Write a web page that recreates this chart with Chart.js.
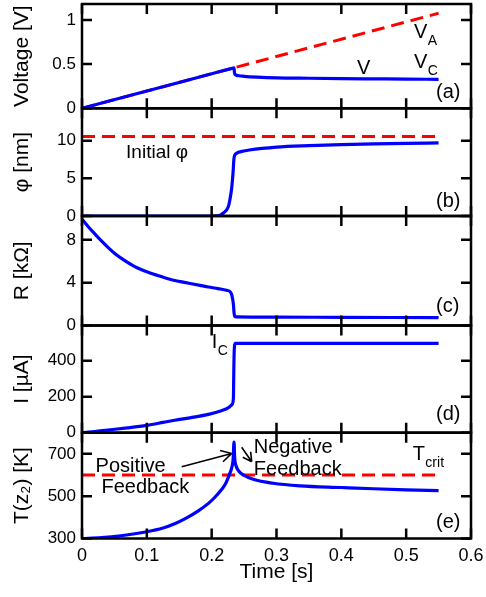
<!DOCTYPE html>
<html>
<head>
<meta charset="utf-8">
<script src="https://cdn.jsdelivr.net/npm/chart.js@4.4.1/dist/chart.umd.min.js"></script>
<style>
  body { margin: 0; background: #fff; }
  #wrap { position: relative; width: 486px; height: 597px; }
  #wrap canvas { position: absolute; left: 0; top: 0; }
</style>
</head>
<body>
<div id="wrap">
  <canvas id="pA" width="486" height="597"></canvas>
  <canvas id="pB" width="486" height="597"></canvas>
  <canvas id="pC" width="486" height="597"></canvas>
  <canvas id="pD" width="486" height="597"></canvas>
  <canvas id="pE" width="486" height="597"></canvas>
</div>
<script>
const xTicks = [0, 0.1, 0.2, 0.3, 0.4, 0.5, 0.6];

// (a) voltage
const vTime = [0, 0.1, 0.2, 0.23, 0.2345, 0.2352, 0.237, 0.242, 0.25, 0.27, 0.3, 0.35, 0.4, 0.45, 0.5, 0.55];
const vVolt = [0, 0.195, 0.391, 0.449, 0.458, 0.40, 0.378, 0.368, 0.362, 0.353, 0.345, 0.34, 0.336, 0.333, 0.33, 0.328];
const vaTime = [0, 0.55];
const vaVolt = [0, 1.075];
const aTicks = [0, 0.5, 1];

// (b) phi
const phiTime = [0, 0.2, 0.213, 0.218, 0.2255, 0.228, 0.231, 0.233, 0.2345, 0.238, 0.245, 0.258, 0.3, 0.35, 0.4, 0.45, 0.5, 0.55];
const phiNm = [0, 0, 0.1, 0.4, 1.2, 2.1, 3.8, 5.8, 7.7, 8.3, 8.55, 8.76, 9.15, 9.35, 9.48, 9.57, 9.64, 9.7];
const phi0Time = [0, 0.55];
const phi0Nm = [10.55, 10.55];
const bTicks = [0, 5, 10];

// (c) resistance
const rTime = [0, 0.01, 0.02, 0.03, 0.04, 0.05, 0.066, 0.08, 0.092, 0.105, 0.118, 0.13, 0.143, 0.156, 0.169, 0.182, 0.195, 0.21, 0.223, 0.229, 0.231, 0.2335, 0.2345, 0.2355, 0.238, 0.3, 0.4, 0.55];
const rKohm = [9.93, 9.2, 8.54, 7.9, 7.3, 6.75, 6.06, 5.55, 5.2, 4.9, 4.65, 4.42, 4.2, 4.05, 3.9, 3.75, 3.6, 3.45, 3.29, 3.12, 2.85, 2.0, 1.2, 0.85, 0.8, 0.78, 0.76, 0.74];
const cTicks = [0, 4, 8];

// (d) current
const iTime = [0, 0.02, 0.04, 0.07, 0.1, 0.125, 0.143, 0.17, 0.195, 0.215, 0.226, 0.231, 0.2335, 0.234, 0.2345, 0.2355, 0.237, 0.55];
const iMicroA = [0, 6, 15, 27, 41, 57, 69, 85, 102, 122, 139, 155, 190, 300, 420, 490, 497, 497];
const dTicks = [0, 200, 400];

// (e) temperature
const tTime = [0, 0.03, 0.06, 0.1, 0.125, 0.143, 0.16, 0.18, 0.195, 0.205, 0.215, 0.222, 0.227, 0.231, 0.233, 0.2345, 0.2355, 0.2375, 0.241, 0.249, 0.264, 0.295, 0.336, 0.4, 0.45, 0.5, 0.55];
const tKelvin = [300, 304, 313, 332, 350, 370, 395, 432, 466, 495, 530, 562, 600, 635, 670, 755, 680, 645, 622, 600, 580, 561, 549, 541, 535, 530, 526];
const tcTime = [0, 0.55];
const tcKelvin = [600, 600];
const eTicks = [300, 500, 700];

const FONT = '"Liberation Sans", Arial, Helvetica, sans-serif';
const BLUE = "#0000ff";
const RED = "#ff0000";
const W = 486, H = 597, PLOT_LEFT = 82, PLOT_RIGHT = 471;

Chart.defaults.font.family = FONT;
Chart.defaults.color = "#000";

const pts = (xs, ys) => xs.map((x, i) => ({ x, y: ys[i] }));

const solid = (xs, ys) => ({
    data: pts(xs, ys),
    borderColor: BLUE,
    borderWidth: 3.2,
    pointRadius: 0,
    cubicInterpolationMode: "monotone",
});

const dashed = (xs, ys) => ({
    data: pts(xs, ys),
    borderColor: RED,
    borderWidth: 3,
    borderDash: [13, 7],
    pointRadius: 0,
});

function framePlugin(yTicks) {
    return {
        id: "frame",
        afterDraw(chart) {
            const { ctx, chartArea: a, scales: { x, y } } = chart;
            const len = 10;
            ctx.save();
            ctx.strokeStyle = "#000";
            ctx.lineWidth = 2.5;
            ctx.beginPath();
            xTicks.forEach((t) => {
                const px = x.getPixelForValue(t);
                ctx.moveTo(px, a.top);
                ctx.lineTo(px, a.top + len);
                ctx.moveTo(px, a.bottom);
                ctx.lineTo(px, a.bottom - len);
            });
            yTicks.forEach((v) => {
                const py = y.getPixelForValue(v);
                ctx.moveTo(a.left, py);
                ctx.lineTo(a.left + len, py);
                ctx.moveTo(a.right, py);
                ctx.lineTo(a.right - len, py);
            });
            ctx.stroke();
            ctx.strokeRect(a.left, a.top, a.right - a.left, a.bottom - a.top);
            ctx.restore();
        },
    };
}

function notesPlugin(notes) {
    return {
        id: "notes",
        afterDatasetsDraw(chart) {
            const { ctx, scales: { x, y } } = chart;
            ctx.save();
            ctx.fillStyle = "#000";
            ctx.strokeStyle = "#000";
            ctx.textAlign = "left";
            ctx.textBaseline = "alphabetic";
            notes.forEach((n) => {
                if (n.from) {
                    const x0 = x.getPixelForValue(n.from[0]), y0 = y.getPixelForValue(n.from[1]);
                    const x1 = x.getPixelForValue(n.to[0]), y1 = y.getPixelForValue(n.to[1]);
                    const ang = Math.atan2(y1 - y0, x1 - x0);
                    const head = n.head || 12;
                    ctx.lineWidth = 1.6;
                    ctx.beginPath();
                    ctx.moveTo(x0, y0);
                    ctx.lineTo(x1, y1);
                    [-0.5, 0.5].forEach((d) => {
                        ctx.moveTo(x1, y1);
                        ctx.lineTo(x1 - head * Math.cos(ang + d), y1 - head * Math.sin(ang + d));
                    });
                    ctx.stroke();
                    return;
                }
                const px = x.getPixelForValue(n.t), py = y.getPixelForValue(n.v);
                ctx.font = `${n.size || 20}px ${FONT}`;
                ctx.fillText(n.text, px, py);
                if (n.sub) {
                    const w = ctx.measureText(n.text).width;
                    ctx.font = `14px ${FONT}`;
                    ctx.fillText(n.sub, px + w + 0.5, py + 7);
                }
            });
            ctx.restore();
        },
    };
}

function makePanel(id, p) {
    return new Chart(document.getElementById(id), {
        type: "line",
        data: { datasets: p.datasets },
        plugins: [framePlugin(p.yTicks), notesPlugin(p.notes)],
        options: {
            responsive: false,
            animation: false,
            events: [],
            devicePixelRatio: 1,
            layout: {
                padding: { top: p.top, bottom: p.last ? 0 : H - p.bottom, left: 0, right: W - PLOT_RIGHT },
            },
            plugins: { legend: { display: false }, tooltip: { enabled: false } },
            scales: {
                x: {
                    type: "linear",
                    min: 0,
                    max: 0.6,
                    bounds: "data",
                    display: !!p.last,
                    grid: { display: false, drawTicks: false },
                    border: { display: false },
                    afterBuildTicks: (s) => { s.ticks = xTicks.map((v) => ({ value: v })); },
                    ticks: { autoSkip: false, maxRotation: 0, padding: 7, font: { size: 18 }, callback: (v) => String(v) },
                    title: { display: true, text: "Time [s]", font: { size: 21 }, padding: { top: 0, bottom: 12 } },
                    afterFit: (s) => {
                        s.height = p.last ? H - p.bottom : 0;
                        s.paddingLeft = 0;
                        s.paddingRight = 0;
                    },
                },
                y: {
                    type: "linear",
                    min: p.yMin,
                    max: p.yMax,
                    bounds: "data",
                    grid: { display: false, drawTicks: false },
                    border: { display: false },
                    afterBuildTicks: (s) => { s.ticks = p.yTicks.map((v) => ({ value: v })); },
                    ticks: { autoSkip: false, padding: 6, font: { size: 17 }, callback: (v) => String(v) },
                    title: { display: true, text: p.yTitle, font: { size: 21 }, padding: { top: 10, bottom: 0 } },
                    afterFit: (s) => {
                        s.width = PLOT_LEFT;
                        s.paddingTop = 0;
                        s.paddingBottom = 0;
                    },
                },
            },
        },
    });
}

makePanel("pA", {
    top: 4, bottom: 108.3, yMin: 0, yMax: 1.18, yTicks: aTicks, yTitle: "Voltage [V]",
    datasets: [solid(vTime, vVolt), dashed(vaTime, vaVolt)],
    notes: [
        { t: 0.512, v: 0.793, text: "V", sub: "A" },
        { t: 0.512, v: 0.454, text: "V", sub: "C" },
        { t: 0.424, v: 0.387, text: "V" },
        { t: 0.546, v: 0.12, text: "(a)" },
    ],
});

makePanel("pB", {
    top: 108.3, bottom: 216, yMin: 0, yMax: 14.3, yTicks: bTicks, yTitle: "φ [nm]",
    datasets: [solid(phiTime, phiNm), dashed(phi0Time, phi0Nm)],
    notes: [
        { t: 0.068, v: 7.75, text: "Initial φ", size: 19 },
        { t: 0.546, v: 1.2, text: "(b)" },
    ],
});

makePanel("pC", {
    top: 216, bottom: 325.5, yMin: 0, yMax: 10.23, yTicks: cTicks, yTitle: "R [kΩ]",
    datasets: [solid(rTime, rKohm)],
    notes: [{ t: 0.546, v: 1.3, text: "(c)" }],
});

makePanel("pD", {
    top: 325.5, bottom: 432.7, yMin: 0, yMax: 596, yTicks: dTicks, yTitle: "I [µA]",
    datasets: [solid(iTime, iMicroA)],
    notes: [
        { t: 0.2, v: 470, text: "I", sub: "C" },
        { t: 0.546, v: 70, text: "(d)" },
    ],
});

makePanel("pE", {
    top: 432.7, bottom: 538.5, yMin: 300, yMax: 800, yTicks: eTicks, yTitle: "T(z₂) [K]", last: true,
    datasets: [solid(tTime, tKelvin), dashed(tcTime, tcKelvin)],
    notes: [
        { t: 0.021, v: 614, text: "Positive" },
        { t: 0.03, v: 515, text: "Feedback" },
        { from: [0.1538, 639], to: [0.2309, 702] },
        { t: 0.265, v: 704, text: "Negative" },
        { t: 0.265, v: 600, text: "Feedback" },
        { from: [0.2463, 731], to: [0.2618, 663], head: 10 },
        { t: 0.51, v: 671, text: "T", sub: "crit" },
        { t: 0.546, v: 350, text: "(e)" },
    ],
});
</script>
</body>
</html>
